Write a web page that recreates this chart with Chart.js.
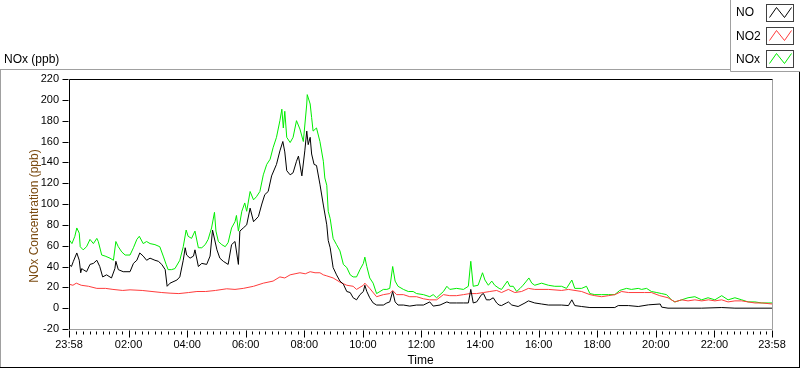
<!DOCTYPE html>
<html>
<head>
<meta charset="utf-8">
<script src="https://cdn.jsdelivr.net/npm/chart.js@4.4.1/dist/chart.umd.min.js"></script>
<style>
html,body{margin:0;padding:0;background:#fff;}
#wrap{position:relative;width:800px;height:369px;}
</style>
</head>
<body>
<div id="wrap"><canvas id="c" width="800" height="369"></canvas></div>
<script>
// minutes after 23:58 (start of day window)
const noTimes = [0,5,9,16,21,24,26,29,36,43,50,57,63,69,77,87,94,96,101,111,125,132,139,145,152,159,166,176,183,190,197,201,207,221,227,234,238,241,248,255,258,265,272,282,289,294,303,309,316,326,333,340,347,350,357,364,371,378,388,395,401,408,415,425,432,438,442,446,453,459,466,470,477,483,487,490,494,497,502,507,514,521,528,531,535,541,548,555,562,569,576,582,589,596,603,606,610,616,623,630,644,651,657,663,668,674,685,698,712,726,739,746,760,774,780,794,808,818,823,828,835,845,849,855,862,869,876,881,886,896,900,907,920,934,941,954,968,982,1009,1023,1030,1036,1050,1067,1118,1125,1146,1166,1187,1211,1214,1227,1296,1337,1364,1440];
const noValues = [42,40,45,53,46,34,38,37,35,42,43,46,40,30,32,29,38,45,37,35,35,43,46,53,50,46,48,46,45,42,37,21,24,27,30,46,58,51,48,50,56,40,43,42,50,75,56,48,45,42,61,64,42,74,77,80,96,83,88,100,109,112,127,138,151,160,150,132,128,130,141,146,127,151,170,157,164,148,138,137,119,99,80,65,58,39,32,26,23,16,15,10,8,13,16,22,16,10,5,3,3,5,6,16,6,3,3,2,3,3,6,2,3,6,5,5,5,5,18,5,6,13,14,8,8,10,5,3,2.5,5,6,3,1.6,5,7,5,4,3,3,2.5,8,2.5,1.6,0.6,0.6,2.5,2.5,1.6,3.2,4,1,0,0,0.6,0,0];

const no2Times = [0,8,15,25,40,57,75,90,110,125,150,170,190,207,225,245,262,280,300,323,340,357,378,398,418,432,442,453,463,473,484,494,504,514,521,528,541,555,569,582,589,596,603,606,616,630,644,657,663,671,685,698,712,726,739,753,767,780,794,808,821,835,849,862,876,886,900,913,927,941,954,982,1009,1023,1050,1067,1077,1091,1105,1118,1132,1146,1179,1193,1210,1227,1241,1255,1268,1282,1296,1310,1323,1337,1350,1364,1378,1391,1405,1420,1440];
const no2Values = [23,22,24,22,21,19,19,18,17,17.6,17,16,15,14.4,14,15,16,16,17,18.6,18,19,21,24,26,30,29,32,33,34,33,35,34,34,32,31,29,25,22,21,18,20,22,24,19,11,13,14,17,13,13,11,11,9,8,8,13,12,12,13,14,14,15,16,17,15,18,15,16,19,18,18,17,18,16,13,12,11,12,13,16,15,15,15,12,10,6,8,7,8,7,8,7,8,6,7,7,6,5,5,4];

const noxTimes = [0,6,12,16,21,23,29,36,43,50,57,60,67,74,84,91,96,101,108,115,125,132,139,144,152,159,166,176,186,193,199,203,210,217,227,234,240,244,251,258,265,272,279,285,292,298,301,306,313,320,326,333,340,343,347,354,360,364,371,378,384,391,398,405,412,418,425,432,436,439,442,446,453,459,466,473,480,487,488,494,497,500,507,514,521,524,528,531,535,541,548,555,562,569,576,582,589,596,603,606,610,616,623,630,637,644,651,657,663,668,674,685,695,705,712,726,739,746,753,767,774,780,794,808,818,823,828,838,847,852,859,866,872,881,886,898,903,910,917,924,930,937,942,948,954,968,982,995,1009,1019,1030,1036,1050,1060,1067,1077,1091,1105,1118,1128,1142,1152,1166,1173,1183,1193,1204,1214,1224,1234,1241,1255,1268,1282,1296,1309,1323,1337,1350,1364,1378,1391,1405,1419,1432,1440];
const noxValues = [66,62,69,77,72,59,56,59,66,62,67,64,51,50,48,46,64,59,54,51,51,58,66,69,62,64,62,61,59,50,42,37,37,38,46,59,75,69,67,74,58,58,61,66,77,92,74,64,61,59,63,77,83,89,74,93,101,93,112,104,107,112,128,138,143,154,164,180,191,173,189,164,159,164,180,172,160,196,205,196,183,170,173,160,141,125,118,93,86,67,61,55,42,39,32,30,30,37,43,49,40,29,24,14,16,18,18,19,40,26,21,18,16,16,14,13,11,13,10,16,21,18,19,18,21,45,21,22,34,27,22,26,22,19,18,26,21,21,16,19,22,26,29,24,22,24,22,21,21,19,27,19,19,21,14,13,13,13,13,17,19,18,19,18,19,16,15,14,13,8,6,8,10,11,8,10,8,12,8,10,8,6,6,5,5,5];

const xTickMinutes = [0,122,242,362,482,602,722,842,962,1082,1202,1322,1440];
const xTickLabels = ['23:58','02:00','04:00','06:00','08:00','10:00','12:00','14:00','16:00','18:00','20:00','22:00','23:58'];
const seriesNames = ['NO','NO2','NOx'];
const seriesColors = ['#000000','#ff3c3c','#00ee00'];

const FONT = '"Liberation Sans", Arial, sans-serif';

function pts(ts, vs){ return ts.map((t,i)=>({x:t,y:vs[i]})); }

const framePlugin = {
  id:'frame',
  beforeDraw(chart){
    const ctx = chart.ctx;
    ctx.save(); ctx.fillStyle='#fff'; ctx.fillRect(0,0,chart.width,chart.height); ctx.restore();
  },
  afterDraw(chart){
    const ctx = chart.ctx, a = chart.chartArea;
    const xs = chart.scales.x, ys = chart.scales.y;
    ctx.save();
    // outer frame
    ctx.strokeStyle='#a0a0a0'; ctx.lineWidth=1;
    ctx.beginPath(); ctx.moveTo(0,69.5); ctx.lineTo(730,69.5); ctx.stroke();
    ctx.beginPath(); ctx.moveTo(0.5,69.5); ctx.lineTo(0.5,368); ctx.stroke();
    ctx.strokeStyle='#000';
    ctx.beginPath(); ctx.moveTo(0,367.5); ctx.lineTo(800,367.5); ctx.stroke();
    ctx.beginPath(); ctx.moveTo(799.5,72); ctx.lineTo(799.5,368); ctx.stroke();
    // plot border
    const L=Math.round(a.left)+0.5, R=Math.round(a.right)+0.5, T=Math.round(a.top)+0.5, B=Math.round(a.bottom)+0.5;
    ctx.strokeStyle='#a0a0a0';
    ctx.beginPath(); ctx.moveTo(L,B); ctx.lineTo(R,B); ctx.lineTo(R,T); ctx.stroke();
    ctx.strokeStyle='#000';
    ctx.beginPath(); ctx.moveTo(L,B); ctx.lineTo(L,T); ctx.lineTo(R,T); ctx.stroke();
    // y ticks
    ctx.strokeStyle='#000';
    for(let v=-20; v<=220; v+=20){
      const y=Math.round(ys.getPixelForValue(v))+0.5;
      ctx.beginPath(); ctx.moveTo(L-7,y); ctx.lineTo(L-1,y); ctx.stroke();
    }
    // x ticks: major and minor
    for(const m of xTickMinutes){
      const x=Math.round(xs.getPixelForValue(m))+0.5;
      ctx.beginPath(); ctx.moveTo(x,B+1); ctx.lineTo(x,B+8); ctx.stroke();
    }
    const step=120/9;
    for(let m=122-9*step; m<1440; m+=step){
      if(m<3||m>1437) continue;
      if(xTickMinutes.some(t=>Math.abs(t-m)<1)) continue;
      const x=Math.round(xs.getPixelForValue(m))+0.5;
      ctx.beginPath(); ctx.moveTo(x,B+2); ctx.lineTo(x,B+5); ctx.stroke();
    }
    // titles
    ctx.fillStyle='#000';
    ctx.font='12px '+FONT;
    ctx.textBaseline='alphabetic'; ctx.textAlign='left';
    ctx.fillText('NOx (ppb)',4,63);
    ctx.textAlign='center';
    ctx.fillText('Time',(a.left+a.right)/2,364);
    ctx.save();
    ctx.translate(38,216); ctx.rotate(-Math.PI/2);
    ctx.fillStyle='#7a4a10';
    ctx.fillText('NOx Concentration (ppb)',0,0);
    ctx.restore();
    // legend
    ctx.strokeStyle='#a0a0a0';
    ctx.beginPath(); ctx.moveTo(730.5,0); ctx.lineTo(730.5,71.5); ctx.lineTo(800,71.5); ctx.stroke();
    ctx.textAlign='left'; ctx.textBaseline='middle';
    for(let i=0;i<3;i++){
      const by=3.5+i*23.3;
      ctx.fillStyle='#000';
      ctx.fillText(seriesNames[i],736,by+9.5);
      ctx.fillStyle='#fff';
      ctx.fillRect(766.5,Math.round(by)+0.5,27,17);
      ctx.strokeStyle='#404040';
      ctx.strokeRect(766.5,Math.round(by)+0.5,27,17);
      ctx.strokeStyle=seriesColors[i];
      const bx=766.5, yy=Math.round(by)+0.5;
      ctx.beginPath();
      ctx.moveTo(bx+3,yy+13); ctx.lineTo(bx+10,yy+3); ctx.lineTo(bx+18,yy+13); ctx.lineTo(bx+25,yy+3);
      ctx.stroke();
    }
    ctx.restore();
  }
};

new Chart(document.getElementById('c'), {
  type:'line',
  data:{
    datasets:[
      {label:seriesNames[0], data:pts(noTimes,noValues), borderColor:seriesColors[0], borderWidth:1, pointRadius:0, tension:0, fill:false},
      {label:seriesNames[1], data:pts(no2Times,no2Values), borderColor:seriesColors[1], borderWidth:1, pointRadius:0, tension:0, fill:false},
      {label:seriesNames[2], data:pts(noxTimes,noxValues), borderColor:seriesColors[2], borderWidth:1, pointRadius:0, tension:0, fill:false}
    ]
  },
  options:{
    responsive:false, animation:false, devicePixelRatio:1,
    layout:{padding:{left:0,top:79,right:28,bottom:0}},
    plugins:{legend:{display:false}, tooltip:{enabled:false}, title:{display:false}},
    scales:{
      x:{type:'linear', min:0, max:1440,
        afterBuildTicks:(s)=>{ s.ticks = xTickMinutes.map(v=>({value:v})); },
        afterFit:(s)=>{ s.height=40; },
        grid:{display:false, drawTicks:false}, border:{display:false},
        ticks:{autoSkip:false, maxRotation:0, padding:9, color:'#000', font:{family:FONT,size:11},
          callback:(v,i)=>xTickLabels[i]}
      },
      y:{type:'linear', min:-20, max:220,
        afterFit:(s)=>{ s.width=69; },
        grid:{display:false, drawTicks:false}, border:{display:false},
        ticks:{stepSize:20, padding:10, color:'#000', font:{family:FONT,size:11}}
      }
    }
  },
  plugins:[framePlugin]
});
</script>
</body>
</html>
